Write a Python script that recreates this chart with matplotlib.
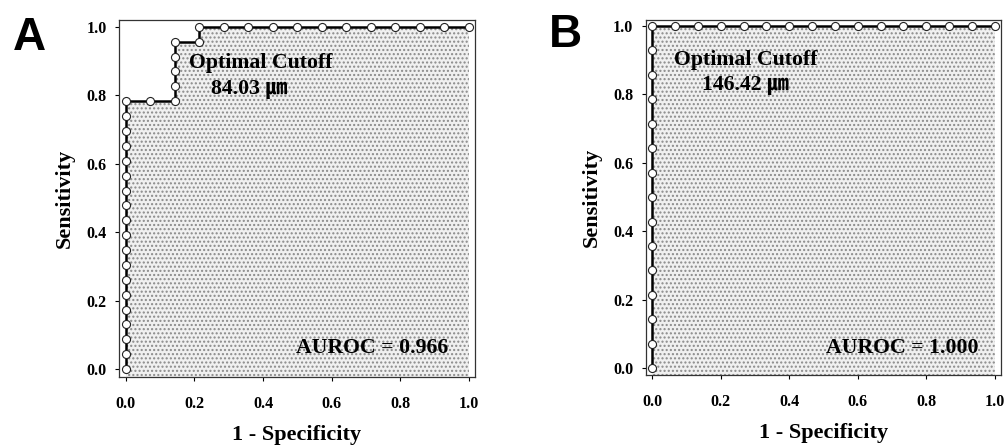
import numpy as np
import matplotlib
matplotlib.use("Agg")
import matplotlib.pyplot as plt

# ROC points (1 - specificity, sensitivity)
# Panel A: 23 positives, 14 negatives
fpr_a = [0, 0, 0, 0, 0, 0, 0, 0, 0, 0, 0, 0, 0, 0, 0, 0, 0, 0, 0,
         1/14, 2/14, 2/14, 2/14, 2/14, 2/14, 3/14, 3/14,
         4/14, 5/14, 6/14, 7/14, 8/14, 9/14, 10/14, 11/14, 12/14, 13/14, 1]
tpr_a = [i/23 for i in range(19)] + \
        [18/23, 18/23, 19/23, 20/23, 21/23, 22/23, 22/23, 1,
         1, 1, 1, 1, 1, 1, 1, 1, 1, 1, 1]

# Panel B: 14 positives, 15 negatives
fpr_b = [0]*15 + [i/15 for i in range(1, 16)]
tpr_b = [i/14 for i in range(15)] + [1]*15

labels = ["A", "B"]
cutoffs = ["84.03 \u339b", "146.42 \u339b"]
aurocs = ["AUROC = 0.966", "AUROC = 1.000"]
ticks = [0.0, 0.2, 0.4, 0.6, 0.8, 1.0]

serif = ["Liberation Serif", "Noto Sans CJK KR", "DejaVu Sans"]

fig = plt.figure(figsize=(10.05, 4.47), dpi=100)
ax_a = fig.add_axes([0.1184, 0.1566, 0.3542, 0.7987])
ax_b = fig.add_axes([0.6425, 0.161, 0.3535, 0.794])

# axes, x, y, xlim, ylim, cutoff title pos, cutoff value pos, auroc pos
panels = [
    (ax_a, fpr_a, tpr_a, (-0.02, 1.018), (-0.023, 1.02),
     (0.184, 0.895), (0.248, 0.819), (0.94, 0.061)),
    (ax_b, fpr_b, tpr_b, (-0.019, 1.018), (-0.02, 1.017),
     (0.063, 0.90), (0.145, 0.827), (0.951, 0.059)),
]

for i, (ax, fx, ty, xl, yl, p1, p2, p3) in enumerate(panels):
    fx = np.array(fx)
    ty = np.array(ty)
    # stippled area under the curve
    ax.fill_between(fx, ty, -0.1, facecolor="#f0f0f0", edgecolor="#8a8a8a",
                    hatch="....", linewidth=0, zorder=1)
    ax.plot(fx, ty, color="black", lw=1.8, marker="o", ms=5.8,
            mfc="white", mec="#222222", mew=0.8, zorder=3, clip_on=False)
    ax.set_xlim(*xl)
    ax.set_ylim(*yl)
    ax.set_xticks(ticks)
    ax.set_yticks(ticks)
    ax.set_xticklabels([f"{t:.1f}" for t in ticks])
    ax.set_yticklabels([f"{t:.1f}" for t in ticks])
    ax.tick_params(direction="out", length=3, width=0.8, pad=11, labelsize=11.5)
    ax.tick_params(axis="y", pad=6)
    for lab in ax.get_xticklabels() + ax.get_yticklabels():
        lab.set_fontfamily(serif)
        lab.set_fontweight("bold")
    for s in ax.spines.values():
        s.set_linewidth(0.9)
        s.set_color("#333333")
    ax.set_xlabel("1 - Specificity", family=serif, fontweight="bold",
                  fontsize=16, labelpad=9)
    ax.set_ylabel("Sensitivity", family=serif, fontweight="bold",
                  fontsize=16, labelpad=8)
    ax.text(p1[0], p1[1], "Optimal Cutoff", family=serif, fontweight="bold",
            fontsize=15.7, va="center", ha="left", zorder=4)
    ax.text(p2[0], p2[1], cutoffs[i], family=serif, fontweight="bold",
            fontsize=15.7, va="center", ha="left", zorder=4)
    ax.text(p3[0], p3[1], aurocs[i], family=serif, fontweight="bold",
            fontsize=15.7, va="center", ha="right", zorder=4)

fig.text(0.013, 0.965, labels[0], family="Liberation Sans", fontweight="bold",
         fontsize=33, va="top", ha="left")
fig.text(0.546, 0.97, labels[1], family="Liberation Sans", fontweight="bold",
         fontsize=33, va="top", ha="left")

fig.savefig("out.png", dpi=100)
